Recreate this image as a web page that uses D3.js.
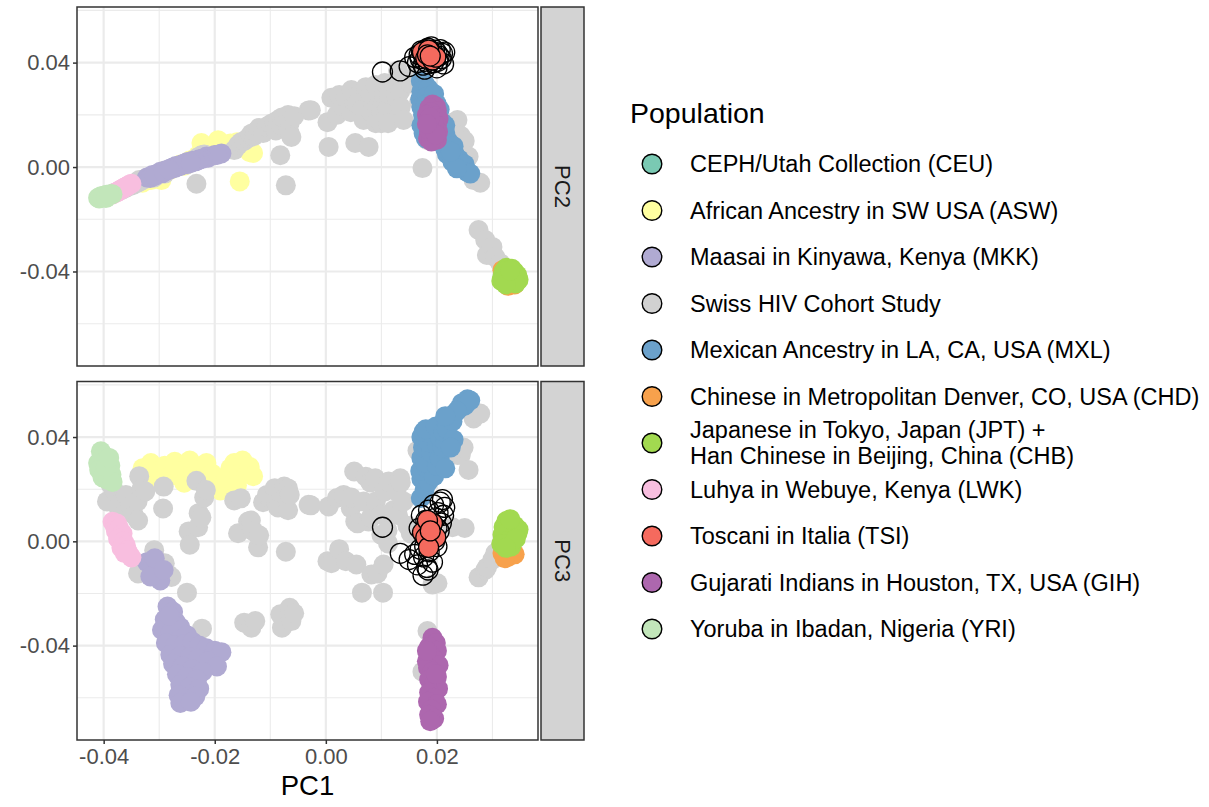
<!DOCTYPE html>
<html>
<head>
<meta charset="utf-8">
<script src="https://cdn.jsdelivr.net/npm/d3@7"></script>
<style>
  body { margin: 0; background: #ffffff; }
  svg { font-family: "Liberation Sans", Arial, Helvetica, sans-serif; }
</style>
</head>
<body>
<svg id="chart" width="1209" height="807"></svg>
<script>
// ---- Population labels and colours (legend order) ----
const populationKeys = ["CEU", "ASW", "MKK", "SHCS", "MXL", "CHD", "JPT", "LWK", "TSI", "GIH", "YRI"];
const populationLabels = [
  ["CEPH/Utah Collection (CEU)"],
  ["African Ancestry in SW USA (ASW)"],
  ["Maasai in Kinyawa, Kenya (MKK)"],
  ["Swiss HIV Cohort Study"],
  ["Mexican Ancestry in LA, CA, USA (MXL)"],
  ["Chinese in Metropolitan Denver, CO, USA (CHD)"],
  ["Japanese in Tokyo, Japan (JPT) +", "Han Chinese in Beijing, China (CHB)"],
  ["Luhya in Webuye, Kenya (LWK)"],
  ["Toscani in Italia (TSI)"],
  ["Gujarati Indians in Houston, TX, USA (GIH)"],
  ["Yoruba in Ibadan, Nigeria (YRI)"]
];
const populationColors = ["#7AC9B3", "#FFFFA0", "#B0AAD2", "#D1D1D1", "#6BA1CB", "#F7A14C",
                          "#A2D950", "#F8BEDF", "#F56A5E", "#AD67AE", "#C2E6BA"];

// ---- Principal components per individual: [PC1, PC2, PC3] ----
const yri = [
  [-0.0405, -0.0112, 0.0345], [-0.0400, -0.0110, 0.0330], [-0.0410, -0.0118, 0.0300],
  [-0.0395, -0.0106, 0.0310], [-0.0388, -0.0104, 0.0290], [-0.0408, -0.0120, 0.0275],
  [-0.0398, -0.0112, 0.0265], [-0.0386, -0.0105, 0.0255], [-0.0402, -0.0116, 0.0245],
  [-0.0392, -0.0108, 0.0235], [-0.0384, -0.0104, 0.0228], [-0.0396, -0.0119, 0.0285],
  [-0.0390, -0.0106, 0.0320]
];
const lwk = [
  [-0.0384, -0.0105, 0.0075], [-0.0380, -0.0100, 0.0060], [-0.0376, -0.0096, 0.0068],
  [-0.0378, -0.0098, 0.0040], [-0.0372, -0.0090, 0.0050], [-0.0370, -0.0088, 0.0020],
  [-0.0366, -0.0084, 0.0030], [-0.0374, -0.0094, 0.0010], [-0.0364, -0.0080, 0.0000],
  [-0.0360, -0.0076, -0.0015], [-0.0368, -0.0086, -0.0025], [-0.0358, -0.0074, -0.0035],
  [-0.0354, -0.0068, -0.0050], [-0.0350, -0.0064, -0.0062], [-0.0362, -0.0078, -0.0045]
];
const mkk = [
  [-0.0322, -0.0040, -0.0080], [-0.0312, -0.0030, -0.0095], [-0.0305, -0.0028, -0.0120],
  [-0.0298, -0.0018, -0.0150], [-0.0316, -0.0042, -0.0135], [-0.0285, -0.0012, -0.0250],
  [-0.0275, -0.0002, -0.0270], [-0.0290, -0.0016, -0.0300], [-0.0270, 0.0004, -0.0310],
  [-0.0295, -0.0024, -0.0340], [-0.0280, -0.0008, -0.0355], [-0.0262, 0.0008, -0.0330],
  [-0.0250, 0.0018, -0.0360], [-0.0288, -0.0012, -0.0390], [-0.0272, -0.0004, -0.0400],
  [-0.0255, 0.0014, -0.0395], [-0.0240, 0.0024, -0.0385], [-0.0228, 0.0030, -0.0400],
  [-0.0215, 0.0040, -0.0410], [-0.0200, 0.0046, -0.0420], [-0.0188, 0.0052, -0.0425],
  [-0.0280, -0.0006, -0.0435], [-0.0262, 0.0004, -0.0440], [-0.0245, 0.0016, -0.0445],
  [-0.0230, 0.0026, -0.0450], [-0.0212, 0.0036, -0.0460], [-0.0196, 0.0046, -0.0480],
  [-0.0275, -0.0002, -0.0470], [-0.0258, 0.0010, -0.0480], [-0.0240, 0.0020, -0.0490],
  [-0.0222, 0.0032, -0.0500], [-0.0268, 0.0002, -0.0510], [-0.0250, 0.0012, -0.0520],
  [-0.0232, 0.0024, -0.0530], [-0.0262, 0.0006, -0.0550], [-0.0245, 0.0018, -0.0560],
  [-0.0228, 0.0028, -0.0565], [-0.0265, 0.0004, -0.0590], [-0.0250, 0.0014, -0.0600],
  [-0.0235, 0.0022, -0.0595], [-0.0262, 0.0006, -0.0620], [-0.0243, 0.0016, -0.0615],
  [-0.0308, -0.0034, -0.0065], [-0.0292, -0.0020, -0.0110], [-0.0282, -0.0010, -0.0285]
];
const asw = [
  [-0.0330, -0.0060, 0.0280], [-0.0325, -0.0045, 0.0250], [-0.0315, -0.0050, 0.0300],
  [-0.0305, -0.0030, 0.0265], [-0.0296, -0.0050, 0.0230], [-0.0290, -0.0015, 0.0290],
  [-0.0280, -0.0010, 0.0250], [-0.0272, 0.0000, 0.0305], [-0.0262, 0.0010, 0.0270],
  [-0.0255, 0.0005, 0.0225], [-0.0245, 0.0025, 0.0310], [-0.0238, 0.0030, 0.0255],
  [-0.0230, 0.0045, 0.0285], [-0.0224, 0.0092, 0.0235], [-0.0215, 0.0060, 0.0300],
  [-0.0205, 0.0070, 0.0260], [-0.0194, 0.0103, 0.0220], [-0.0190, 0.0060, 0.0195],
  [-0.0180, 0.0080, 0.0245], [-0.0172, 0.0090, 0.0280], [-0.0165, 0.0075, 0.0300],
  [-0.0155, -0.0055, 0.0260], [-0.0150, 0.0085, 0.0310], [-0.0142, 0.0070, 0.0270],
  [-0.0137, 0.0057, 0.0285], [-0.0131, 0.0054, 0.0250], [-0.0160, 0.0095, 0.0215]
];
const shcs = [
  [-0.0394, -0.0112, 0.0153], [-0.0387, -0.0104, 0.0217], [-0.0380, -0.0098, 0.0191],
  [-0.0373, -0.0092, 0.0127], [-0.0366, -0.0086, 0.0160], [-0.0360, -0.0080, 0.0178],
  [-0.0352, -0.0072, 0.0135], [-0.0346, -0.0068, 0.0102], [-0.0339, -0.0060, 0.0153],
  [-0.0338, -0.0055, -0.0123], [-0.0336, -0.0050, 0.0250], [-0.0338, -0.0058, 0.0080],
  [-0.0332, -0.0052, 0.0200], [-0.0325, -0.0045, 0.0191], [-0.0309, -0.0040, -0.0034],
  [-0.0305, -0.0030, -0.0070], [-0.0292, -0.0020, 0.0210], [-0.0293, -0.0015, 0.0126],
  [-0.0290, -0.0025, -0.0084], [-0.0284, -0.0010, -0.0127], [-0.0278, -0.0008, -0.0137],
  [-0.0250, 0.0010, -0.0197], [-0.0247, 0.0020, 0.0038], [-0.0245, 0.0015, -0.0013],
  [-0.0233, -0.0064, 0.0232], [-0.0230, 0.0038, 0.0054], [-0.0229, 0.0030, 0.0108],
  [-0.0224, 0.0045, 0.0092], [-0.0223, 0.0040, -0.0335], [-0.0219, 0.0048, 0.0168],
  [-0.0216, 0.0045, 0.0197],
  [-0.0165, 0.0065, 0.0157], [-0.0158, 0.0084, 0.0031], [-0.0153, 0.0095, 0.0165],
  [-0.0147, 0.0100, -0.0312], [-0.0140, 0.0111, 0.0076], [-0.0135, 0.0120, 0.0080],
  [-0.0134, 0.0128, -0.0331], [-0.0130, 0.0118, 0.0038], [-0.0127, 0.0135, -0.0306],
  [-0.0122, 0.0142, -0.0023], [-0.0120, 0.0150, 0.0023], [-0.0113, 0.0130, 0.0150],
  [-0.0106, 0.0155, 0.0178], [-0.0099, 0.0165, 0.0165], [-0.0092, 0.0172, 0.0204],
  [-0.0090, 0.0140, 0.0153], [-0.0086, 0.0180, 0.0130], [-0.0082, 0.0045, -0.0280],
  [-0.0081, 0.0160, 0.0188], [-0.0079, 0.0190, -0.0331], [-0.0075, 0.0185, 0.0210],
  [-0.0072, -0.0070, -0.0040], [-0.0068, 0.0199, 0.0119], [-0.0068, 0.0150, 0.0203],
  [-0.0065, 0.0170, 0.0178], [-0.0065, 0.0130, -0.0255], [-0.0062, 0.0115, -0.0306],
  [-0.0057, 0.0195, -0.0276], [-0.0031, 0.0217, 0.0140], [-0.0027, 0.0218, 0.0138],
  [0.0003, 0.0172, -0.0076], [0.0005, 0.0077, 0.0134], [0.0010, 0.0265, -0.0084],
  [0.0020, 0.0200, 0.0166], [0.0024, 0.0276, -0.0030], [0.0032, 0.0230, 0.0178],
  [0.0036, 0.0265, -0.0076], [0.0045, 0.0210, 0.0127], [0.0046, 0.0295, 0.0168],
  [0.0051, 0.0250, 0.0268], [0.0053, 0.0092, 0.0076], [0.0055, 0.0270, -0.0089],
  [0.0057, 0.0245, 0.0069], [0.0065, 0.0220, -0.0197], [0.0068, 0.0180, 0.0153],
  [0.0072, 0.0306, 0.0248], [0.0077, 0.0077, 0.0076], [0.0080, 0.0257, 0.0226],
  [0.0081, 0.0280, 0.0092], [0.0082, 0.0210, -0.0127], [0.0089, 0.0314, 0.0242],
  [0.0090, 0.0168, 0.0153], [0.0093, 0.0230, -0.0123], [0.0099, 0.0220, 0.0102],
  [0.0100, 0.0168, 0.0025], [0.0103, 0.0257, -0.0197], [0.0104, 0.0280, -0.0089],
  [0.0106, 0.0322, 0.0191], [0.0111, 0.0220, 0.0042], [0.0112, 0.0168, -0.0008],
  [0.0113, 0.0280, 0.0229], [0.0122, 0.0322, 0.0120], [0.0127, 0.0268, 0.0191],
  [0.0130, 0.0370, 0.0100], [0.0134, 0.0290, 0.0242], [0.0135, 0.0230, 0.0226],
  [0.0140, 0.0180, 0.0153], [0.0147, 0.0333, 0.0060], [0.0153, 0.0320, 0.0030],
  [0.0165, 0.0370, 0.0348], [0.0168, 0.0250, 0.0350], [0.0174, -0.0004, -0.0500],
  [0.0183, 0.0103, -0.0344], [0.0192, 0.0150, -0.0166], [0.0201, 0.0200, -0.0161],
  [0.0228, 0.0170, 0.0054], [0.0237, 0.0180, 0.0331], [0.0243, 0.0120, 0.0331],
  [0.0248, 0.0020, 0.0360], [0.0250, 0.0100, 0.0051], [0.0257, 0.0040, 0.0274],
  [0.0266, -0.0050, 0.0471], [0.0278, -0.0060, 0.0490],
  [0.0275, -0.0241, -0.0138], [0.0287, -0.0279, -0.0110], [0.0290, -0.0337, -0.0100],
  [0.0300, -0.0306, -0.0070], [0.0305, -0.0345, -0.0045], [0.0314, -0.0368, -0.0023]
];
const mxl = [
  [0.0171, 0.0330, 0.0166], [0.0178, 0.0320, 0.0200], [0.0172, 0.0290, 0.0240],
  [0.0185, 0.0300, 0.0230], [0.0170, 0.0260, 0.0270], [0.0182, 0.0270, 0.0280],
  [0.0195, 0.0280, 0.0250], [0.0172, 0.0230, 0.0320], [0.0180, 0.0240, 0.0300],
  [0.0200, 0.0240, 0.0290], [0.0175, 0.0200, 0.0360], [0.0190, 0.0210, 0.0340],
  [0.0205, 0.0220, 0.0320], [0.0172, 0.0160, 0.0400], [0.0185, 0.0180, 0.0380],
  [0.0200, 0.0190, 0.0370], [0.0210, 0.0170, 0.0360], [0.0176, 0.0130, 0.0420],
  [0.0192, 0.0140, 0.0410], [0.0205, 0.0150, 0.0400], [0.0215, 0.0130, 0.0380],
  [0.0180, 0.0110, 0.0430], [0.0198, 0.0100, 0.0440], [0.0212, 0.0110, 0.0420],
  [0.0220, 0.0100, 0.0450], [0.0225, 0.0070, 0.0470], [0.0218, 0.0050, 0.0430],
  [0.0232, 0.0050, 0.0490], [0.0240, 0.0030, 0.0510], [0.0228, 0.0020, 0.0460],
  [0.0245, 0.0000, 0.0530], [0.0250, 0.0010, 0.0520], [0.0255, -0.0020, 0.0545],
  [0.0260, -0.0025, 0.0540], [0.0236, -0.0005, 0.0500], [0.0215, 0.0070, 0.0480],
  [0.0230, 0.0080, 0.0390], [0.0225, 0.0060, 0.0360], [0.0215, 0.0160, 0.0280]
];
const chd = [
  [0.0328, -0.0455, -0.0060], [0.0340, -0.0450, -0.0050],
  [0.0318, -0.0395, -0.0045], [0.0322, -0.0440, -0.0065]
];
const jpt = [
  [0.0325, -0.0386, 0.0078], [0.0335, -0.0390, 0.0070], [0.0320, -0.0400, 0.0055],
  [0.0340, -0.0402, 0.0060], [0.0330, -0.0410, 0.0040], [0.0345, -0.0415, 0.0030],
  [0.0318, -0.0418, 0.0025], [0.0338, -0.0425, 0.0015], [0.0326, -0.0430, 0.0000],
  [0.0347, -0.0432, 0.0045], [0.0316, -0.0436, -0.0010], [0.0334, -0.0440, -0.0020],
  [0.0342, -0.0446, 0.0010], [0.0324, -0.0450, -0.0025], [0.0332, -0.0396, 0.0085]
];
const gih = [
  [0.0192, 0.0240, -0.0370], [0.0198, 0.0232, -0.0390], [0.0186, 0.0225, -0.0405],
  [0.0200, 0.0215, -0.0420], [0.0190, 0.0210, -0.0440], [0.0182, 0.0200, -0.0460],
  [0.0196, 0.0195, -0.0455], [0.0203, 0.0185, -0.0475], [0.0184, 0.0180, -0.0485],
  [0.0192, 0.0170, -0.0500], [0.0200, 0.0160, -0.0520], [0.0186, 0.0155, -0.0530],
  [0.0194, 0.0145, -0.0550], [0.0202, 0.0135, -0.0565], [0.0186, 0.0130, -0.0580],
  [0.0195, 0.0120, -0.0600], [0.0184, 0.0110, -0.0615], [0.0200, 0.0105, -0.0625],
  [0.0190, 0.0098, -0.0645], [0.0186, 0.0140, -0.0665], [0.0195, 0.0165, -0.0680],
  [0.0188, 0.0190, -0.0690], [0.0198, 0.0125, -0.0510], [0.0182, 0.0165, -0.0420]
];
const ceu = [
  [0.0102, 0.0364, 0.0054], [0.0134, 0.0368, -0.0046], [0.0150, 0.0385, -0.0070],
  [0.0165, 0.0400, -0.0090], [0.0168, 0.0430, 0.0050], [0.0170, 0.0415, -0.0030],
  [0.0172, 0.0445, 0.0100], [0.0175, 0.0390, -0.0130], [0.0176, 0.0425, -0.0060],
  [0.0178, 0.0405, 0.0020], [0.0180, 0.0450, 0.0080], [0.0182, 0.0435, -0.0100],
  [0.0185, 0.0395, 0.0120], [0.0186, 0.0420, -0.0040], [0.0188, 0.0445, 0.0030],
  [0.0190, 0.0410, 0.0060], [0.0192, 0.0430, -0.0080], [0.0194, 0.0400, 0.0140],
  [0.0196, 0.0448, 0.0000], [0.0198, 0.0420, 0.0090], [0.0200, 0.0438, -0.0020],
  [0.0202, 0.0405, 0.0110], [0.0204, 0.0425, 0.0040], [0.0206, 0.0450, 0.0150],
  [0.0208, 0.0415, 0.0070], [0.0210, 0.0435, 0.0160], [0.0212, 0.0395, 0.0100],
  [0.0214, 0.0440, 0.0130], [0.0184, 0.0455, -0.0110], [0.0178, 0.0375, -0.0020],
  [0.0160, 0.0420, -0.0050], [0.0200, 0.0380, 0.0050], [0.0190, 0.0460, 0.0010]
];
const tsi = [
  [0.0174, 0.0440, 0.0034], [0.0180, 0.0417, 0.0015], [0.0192, 0.0410, 0.0069],
  [0.0198, 0.0421, 0.0015], [0.0185, 0.0448, -0.0023], [0.0183, 0.0430, 0.0080],
  [0.0188, 0.0425, 0.0040]
];

// ---- Axis ticks and facets ----
const xTicks = [-0.04, -0.02, 0.00, 0.02];
const xTickLabels = ["-0.04", "-0.02", "0.00", "0.02"];
const xMinor = [-0.03, -0.01, 0.01, 0.03];
const yTicks = [-0.04, 0.00, 0.04];
const yTickLabels = ["-0.04", "0.00", "0.04"];
const yMinor = [-0.06, -0.02, 0.02, 0.06];
const facets = ["PC2", "PC3"];
const xTitle = "PC1";
const legendTitle = "Population";

// ---- Layout ----
const svg = d3.select("#chart");
const panelLeft = 77, panelRight = 538;
const stripLeft = 541, stripRight = 584;
const panelBoxes = [{ top: 7, bottom: 366 }, { top: 381.5, bottom: 740 }];

const x = d3.scaleLinear().domain([-0.0448, 0.0382]).range([panelLeft, panelRight]);
const yDomain = [-0.0762, 0.0613];

// drawing order of the groups (later ones on top)
const drawOrder = [
  { key: "ASW", data: asw }, { key: "SHCS", data: shcs }, { key: "MKK", data: mkk },
  { key: "LWK", data: lwk }, { key: "YRI", data: yri }, { key: "MXL", data: mxl },
  { key: "CHD", data: chd }, { key: "JPT", data: jpt }, { key: "GIH", data: gih },
  { key: "CEU", data: ceu, outline: true, open: true }, { key: "TSI", data: tsi, outline: true }
];
const colorOf = k => populationColors[populationKeys.indexOf(k)];
const pointRadius = 10;

facets.forEach((facet, fi) => {
  const box = panelBoxes[fi];
  const y = d3.scaleLinear().domain(yDomain).range([box.bottom, box.top]);
  const g = svg.append("g");

  // panel background
  g.append("rect").attr("x", panelLeft).attr("y", box.top)
    .attr("width", panelRight - panelLeft).attr("height", box.bottom - box.top)
    .attr("fill", "#ffffff");

  const clipId = "clip-" + facet;
  svg.append("clipPath").attr("id", clipId).append("rect")
    .attr("x", panelLeft).attr("y", box.top)
    .attr("width", panelRight - panelLeft).attr("height", box.bottom - box.top);

  const grid = g.append("g");
  grid.selectAll(".vminor").data(xMinor).join("line")
    .attr("x1", d => x(d)).attr("x2", d => x(d)).attr("y1", box.top).attr("y2", box.bottom)
    .attr("stroke", "#EBEBEB").attr("stroke-width", 1.1);
  grid.selectAll(".hminor").data(yMinor.filter(v => y(v) > box.top && y(v) < box.bottom)).join("line")
    .attr("x1", panelLeft).attr("x2", panelRight).attr("y1", d => y(d)).attr("y2", d => y(d))
    .attr("stroke", "#EBEBEB").attr("stroke-width", 1.1);
  grid.selectAll(".vmajor").data(xTicks).join("line")
    .attr("x1", d => x(d)).attr("x2", d => x(d)).attr("y1", box.top).attr("y2", box.bottom)
    .attr("stroke", "#EBEBEB").attr("stroke-width", 2.2);
  grid.selectAll(".hmajor").data(yTicks).join("line")
    .attr("x1", panelLeft).attr("x2", panelRight).attr("y1", d => y(d)).attr("y2", d => y(d))
    .attr("stroke", "#EBEBEB").attr("stroke-width", 2.2);

  // points
  const pts = g.append("g").attr("clip-path", `url(#${clipId})`);
  const comp = fi + 1; // PC2 or PC3 column
  drawOrder.forEach(grp => {
    pts.append("g").selectAll("circle").data(grp.data).join("circle")
      .attr("cx", d => x(d[0])).attr("cy", d => y(d[comp])).attr("r", pointRadius)
      .attr("fill", grp.open ? "none" : colorOf(grp.key))
      .attr("stroke", grp.outline ? "#000000" : "none")
      .attr("stroke-width", grp.outline ? 1.3 : 0);
  });

  // panel border
  g.append("rect").attr("x", panelLeft).attr("y", box.top)
    .attr("width", panelRight - panelLeft).attr("height", box.bottom - box.top)
    .attr("fill", "none").attr("stroke", "#333333").attr("stroke-width", 1.5);

  // strip
  g.append("rect").attr("x", stripLeft).attr("y", box.top)
    .attr("width", stripRight - stripLeft).attr("height", box.bottom - box.top)
    .attr("fill", "#D3D3D3").attr("stroke", "#333333").attr("stroke-width", 1.5);
  const sx = (stripLeft + stripRight) / 2, sy = (box.top + box.bottom) / 2;
  g.append("text").attr("transform", `translate(${sx},${sy}) rotate(90)`)
    .attr("text-anchor", "middle").attr("dominant-baseline", "central")
    .attr("font-size", 22).attr("fill", "#1A1A1A").text(facet);

  // y axis
  const yAxis = d3.axisLeft(y).tickValues(yTicks)
    .tickFormat((d, i) => yTickLabels[i]).tickSize(4).tickPadding(3);
  const ya = g.append("g").attr("transform", `translate(${panelLeft},0)`).call(yAxis);
  ya.select(".domain").remove();
  ya.selectAll(".tick line").attr("stroke", "#333333").attr("stroke-width", 1.5);
  ya.selectAll(".tick text").attr("fill", "#4D4D4D").attr("font-size", 22)
    .attr("font-family", "Liberation Sans, Arial, sans-serif");

  // x axis only under the bottom panel
  if (fi === facets.length - 1) {
    const xAxis = d3.axisBottom(x).tickValues(xTicks)
      .tickFormat((d, i) => xTickLabels[i]).tickSize(4).tickPadding(4);
    const xa = g.append("g").attr("transform", `translate(0,${box.bottom})`).call(xAxis);
    xa.select(".domain").remove();
    xa.selectAll(".tick line").attr("stroke", "#333333").attr("stroke-width", 1.5);
    xa.selectAll(".tick text").attr("fill", "#4D4D4D").attr("font-size", 22)
      .attr("font-family", "Liberation Sans, Arial, sans-serif");

    svg.append("text").attr("x", (panelLeft + panelRight) / 2).attr("y", 795)
      .attr("text-anchor", "middle").attr("font-size", 27.5).attr("fill", "#000000")
      .text(xTitle);
  }
});

// ---- Legend ----
const legend = svg.append("g");
legend.append("text").attr("x", 630).attr("y", 113).attr("dominant-baseline", "central")
  .attr("font-size", 28.5).attr("fill", "#000000").text(legendTitle);

const rowY = i => 164 + i * 46.5;
populationKeys.forEach((k, i) => {
  legend.append("circle").attr("cx", 652).attr("cy", rowY(i)).attr("r", 9.8)
    .attr("fill", populationColors[i]).attr("stroke", "#000000").attr("stroke-width", 1.4);
  const lines = populationLabels[i];
  const lineGap = 25.5;
  lines.forEach((ln, j) => {
    legend.append("text").attr("x", 690)
      .attr("y", rowY(i) + (j - (lines.length - 1) / 2) * lineGap)
      .attr("dominant-baseline", "central")
      .attr("font-size", 23.5).attr("fill", "#000000").text(ln);
  });
});
</script>
</body>
</html>
